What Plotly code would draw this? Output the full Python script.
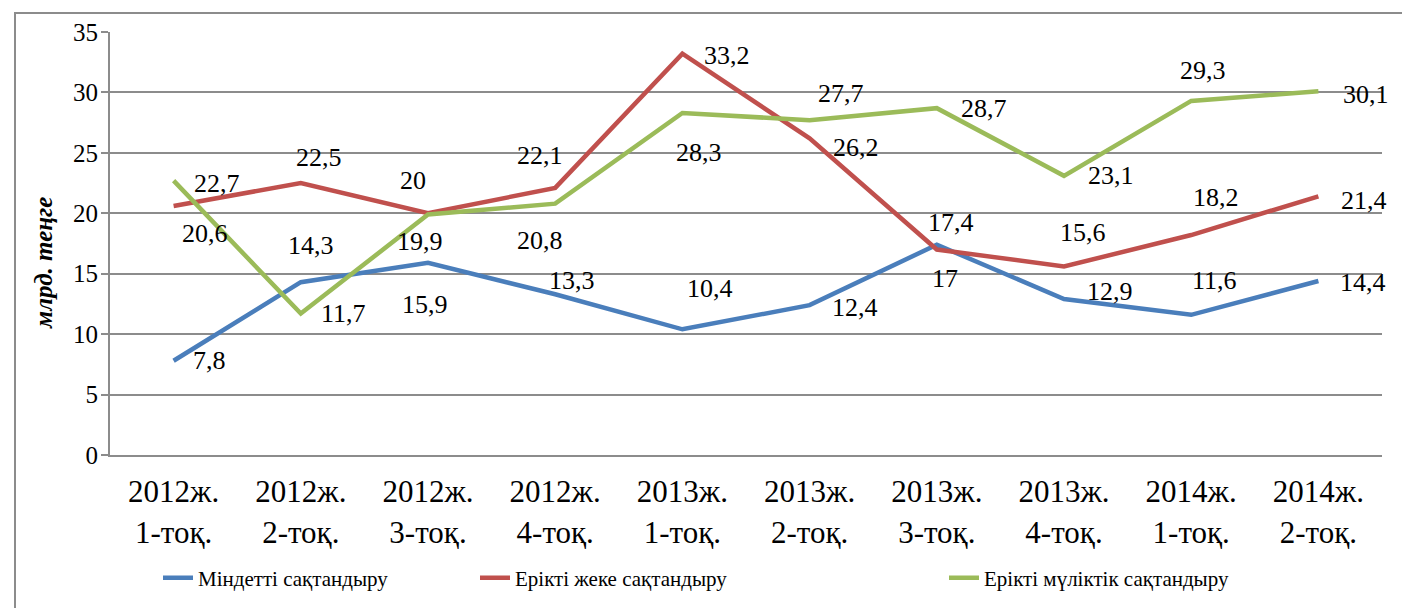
import plotly.graph_objects as go

categories = ["2012ж.<br>1-тоқ.", "2012ж.<br>2-тоқ.", "2012ж.<br>3-тоқ.", "2012ж.<br>4-тоқ.",
              "2013ж.<br>1-тоқ.", "2013ж.<br>2-тоқ.", "2013ж.<br>3-тоқ.", "2013ж.<br>4-тоқ.",
              "2014ж.<br>1-тоқ.", "2014ж.<br>2-тоқ."]
mindetti = [7.8, 14.3, 15.9, 13.3, 10.4, 12.4, 17.4, 12.9, 11.6, 14.4]
erikti_zheke = [20.6, 22.5, 20, 22.1, 33.2, 26.2, 17, 15.6, 18.2, 21.4]
erikti_mulik = [22.7, 11.7, 19.9, 20.8, 28.3, 27.7, 28.7, 23.1, 29.3, 30.1]
names = ["Міндетті сақтандыру", "Ерікті жеке сақтандыру", "Ерікті мүліктік сақтандыру"]
y_title = "млрд. теңге"
colors = ["#4A7EBB", "#C0504D", "#9BBB59"]

# label offsets in pixels (dx, dy), dy positive = up
shift_blue = [(36, 0), (10, 37), (-3, -42), (17, 14), (28, 41), (45, -2), (14, 22), (46, 8), (23, 34), (45, -2)]
shift_red = [(31, -27), (18, 26), (-15, 33), (-15, 32), (45, -2), (46, -9), (8, -29), (19, 34), (25, 38), (46, -4)]
shift_green = [(43, -3), (43, 0), (-8, -27), (-15, -37), (17, -40), (31, 27), (47, 0), (47, 0), (12, 30), (48, -3)]

FONT = "Times New Roman, Liberation Serif, serif"

def fmt(v):
    s = ("%g" % v)
    return s.replace(".", ",")

fig = go.Figure()
series = [mindetti, erikti_zheke, erikti_mulik]
shifts = [shift_blue, shift_red, shift_green]
legends = ["legend2", "legend3", "legend4"]
for vals, name, col, lg in zip(series, names, colors, legends):
    fig.add_trace(go.Scatter(x=categories, y=vals, mode="lines", name=name,
                             line=dict(color=col, width=4.5), legend=lg,
                             hoverinfo="skip", showlegend=True))

L, R, T, B = 110, 20, 32, 153
W, H = 1402, 608
pw = W - L - R
ph = H - T - B

def px(xp):
    return (xp - L) / pw

def py(yp):
    return (H - B - yp) / ph

annotations = []
for vals, sh in zip(series, shifts):
    for c, v, (dx, dy) in zip(categories, vals, sh):
        annotations.append(dict(x=c, y=v, text=fmt(v), showarrow=False,
                                xshift=dx, yshift=dy,
                                font=dict(family=FONT, size=26, color="black")))
annotations.append(dict(xref="paper", yref="paper", x=px(43), y=py(263),
                        text="<b><i>%s</i></b>" % y_title, textangle=-90,
                        showarrow=False, xanchor="center", yanchor="middle",
                        font=dict(family=FONT, size=25, color="black")))

legend_common = dict(orientation="h", yanchor="middle", y=py(578), xanchor="left",
                     font=dict(family=FONT, size=21, color="black"),
                     bgcolor="rgba(0,0,0,0)", itemwidth=30, visible=True)

fig.update_layout(
    width=W, height=H,
    margin=dict(l=L, r=R, t=T, b=B, autoexpand=False),
    paper_bgcolor="white", plot_bgcolor="white",
    font=dict(family=FONT, color="black"),
    annotations=annotations,
    showlegend=True,
    legend2=dict(x=px(158), **legend_common),
    legend3=dict(x=px(475), **legend_common),
    legend4=dict(x=px(944), **legend_common),
    shapes=[dict(type="rect", xref="paper", yref="paper",
                 x0=px(15), x1=px(1420), y0=py(630), y1=py(13),
                 line=dict(color="#8C8C8C", width=2), layer="below")],
)
fig.update_xaxes(type="category", showline=True, linecolor="#8C8C8C", linewidth=2,
                 showgrid=False, ticks="", tickfont=dict(family=FONT, size=31, color="black"),
                 range=[-0.5, 9.5], ticklabelstandoff=8, automargin=False)
fig.update_yaxes(range=[0, 35], dtick=5, showline=True, linecolor="#8C8C8C", linewidth=2,
                 showgrid=True, gridcolor="#8C8C8C", gridwidth=1.5, ticks="outside",
                 ticklen=7, tickcolor="#8C8C8C", tickwidth=1.5,
                 tickfont=dict(family=FONT, size=25, color="black"),
                 ticklabelstandoff=-2,
                 zeroline=False, automargin=False)

fig.write_html("out.html", config={"displayModeBar": False},
               post_script="document.body.style.margin='0';document.body.style.overflow='hidden';")
